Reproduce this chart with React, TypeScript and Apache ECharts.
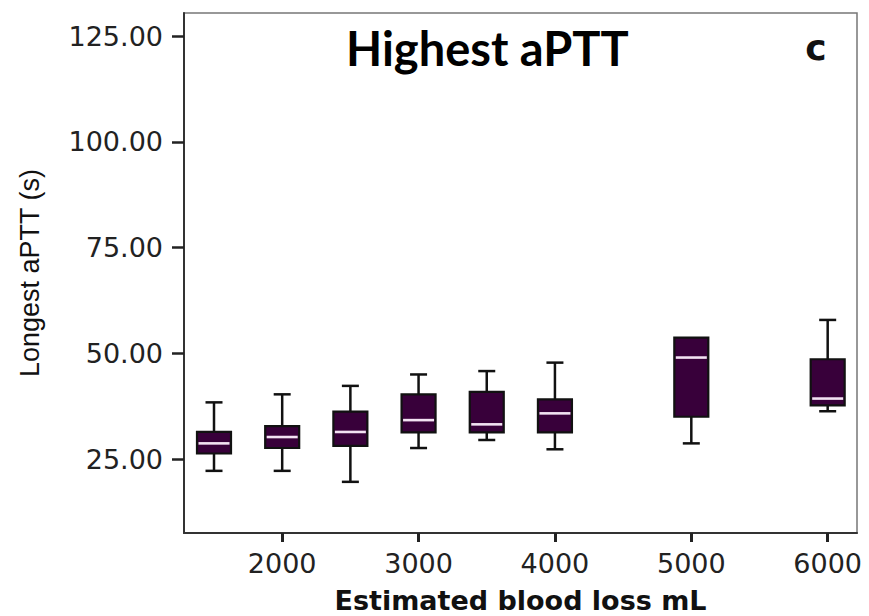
import React, { useEffect, useRef } from "react";
import * as echarts from "echarts";

// Estimated blood loss groups (mL)
const bloodLoss = [1500, 2000, 2500, 3000, 3500, 4000, 5000, 6000];
// Box statistics of longest aPTT (s)
const minVals = [22.2, 22.2, 19.6, 27.6, 29.5, 27.3, 28.7, 36.3];
const q1Vals = [26.3, 27.6, 28.1, 31.3, 31.3, 31.3, 35.0, 37.7];
const medianVals = [28.7, 30.2, 31.4, 34.2, 33.2, 35.8, 49.0, 39.3];
const q3Vals = [31.4, 32.8, 36.2, 40.3, 40.9, 39.1, 53.7, 48.6];
const maxVals = [38.4, 40.3, 42.3, 45.0, 45.8, 47.8, 53.7, 57.9];

const xTickValues = [2000, 3000, 4000, 5000, 6000];
const yTickValues = [25, 50, 75, 100, 125];

const titleText = "Highest aPTT";
const panelLetter = "c";
const xAxisTitle = "Estimated blood loss mL";
const yAxisTitle = "Longest aPTT (s)";

export default function App() {
  const ref = useRef<HTMLDivElement>(null);

  useEffect(() => {
    if (!ref.current) return;
    const chart = echarts.init(ref.current, null, { renderer: "svg" });

    const data = bloodLoss.map((x, i) => [
      x,
      minVals[i],
      q1Vals[i],
      medianVals[i],
      q3Vals[i],
      maxVals[i],
    ]);

    const boxFill = "#38003a";
    const lineColor = "#111111";

    const renderItem = (params: any, api: any) => {
      const x = api.value(0);
      const mn = api.value(1);
      const q1 = api.value(2);
      const md = api.value(3);
      const q3 = api.value(4);
      const mx = api.value(5);
      const pMin = api.coord([x, mn]);
      const pQ1 = api.coord([x, q1]);
      const pMd = api.coord([x, md]);
      const pQ3 = api.coord([x, q3]);
      const pMax = api.coord([x, mx]);
      const cx = pMin[0];
      const half = 17;
      const cap = 8.5;
      const children: any[] = [];
      if (mx > q3) {
        children.push({
          type: "line",
          shape: { x1: cx, y1: pQ3[1], x2: cx, y2: pMax[1] },
          style: { stroke: lineColor, lineWidth: 2.5 },
        });
        children.push({
          type: "line",
          shape: { x1: cx - cap, y1: pMax[1], x2: cx + cap, y2: pMax[1] },
          style: { stroke: lineColor, lineWidth: 2.5 },
        });
      }
      if (mn < q1) {
        children.push({
          type: "line",
          shape: { x1: cx, y1: pQ1[1], x2: cx, y2: pMin[1] },
          style: { stroke: lineColor, lineWidth: 2.5 },
        });
        children.push({
          type: "line",
          shape: { x1: cx - cap, y1: pMin[1], x2: cx + cap, y2: pMin[1] },
          style: { stroke: lineColor, lineWidth: 2.5 },
        });
      }
      children.push({
        type: "rect",
        shape: { x: cx - half, y: pQ3[1], width: half * 2, height: pQ1[1] - pQ3[1] },
        style: { fill: boxFill, stroke: lineColor, lineWidth: 2.2 },
      });
      children.push({
        type: "line",
        shape: { x1: cx - half + 1.5, y1: pMd[1], x2: cx + half - 1.5, y2: pMd[1] },
        style: { stroke: "#f3e2f3", lineWidth: 2.6 },
      });
      return { type: "group", children };
    };

    chart.setOption({
      animation: false,
      backgroundColor: "#ffffff",
      grid: {
        left: 184,
        top: 13,
        right: 12,
        bottom: 83,
        outerBoundsMode: "none",
        show: true,
        borderColor: "#777777",
        borderWidth: 1.5,
        backgroundColor: "transparent",
      },
      graphic: [
        {
          type: "text",
          left: 346,
          top: 24,
          style: {
            text: titleText,
            font: "bold 47px Lato",
            fill: "#000000",
          },
        },
        {
          type: "text",
          x: 816,
          y: 47,
          style: {
            text: panelLetter,
            font: "bold 36px 'DejaVu Sans'",
            fill: "#111111",
            textAlign: "center",
            textVerticalAlign: "middle",
          },
        },
      ],
      xAxis: {
        type: "value",
        min: 1280,
        max: 6215,
        name: xAxisTitle,
        nameLocation: "middle",
        nameGap: 67,
        nameTextStyle: {
          fontFamily: "DejaVu Sans",
          fontWeight: "bold",
          fontSize: 27,
          color: "#111111",
          verticalAlign: "middle",
        },
        axisLine: { show: true, onZero: false, lineStyle: { color: "#333333", width: 2 } },
        axisTick: {
          show: true,
          length: 9,
          customValues: xTickValues,
          lineStyle: { color: "#222222", width: 3 },
        },
        axisLabel: {
          customValues: xTickValues,
          margin: 17,
          fontFamily: "DejaVu Sans",
          fontSize: 27,
          color: "#222222",
          formatter: (v: number) => String(v),
        },
        splitLine: { show: false },
      },
      yAxis: {
        type: "value",
        min: 7.5,
        max: 130.5,
        name: yAxisTitle,
        nameLocation: "middle",
        nameRotate: 90,
        nameGap: 154,
        nameTextStyle: {
          fontFamily: "Liberation Sans",
          fontSize: 27,
          color: "#111111",
          verticalAlign: "middle",
        },
        axisLine: { show: true, onZero: false, lineStyle: { color: "#333333", width: 2 } },
        axisTick: {
          show: true,
          length: 12,
          customValues: yTickValues,
          lineStyle: { color: "#222222", width: 2.5 },
        },
        axisLabel: {
          customValues: yTickValues,
          margin: 21,
          fontFamily: "DejaVu Sans",
          fontSize: 27,
          color: "#222222",
          formatter: (v: number) => v.toFixed(2),
        },
        splitLine: { show: false },
      },
      series: [
        {
          type: "custom",
          name: "Longest aPTT",
          renderItem,
          encode: { x: 0, y: [1, 2, 3, 4, 5] },
          data,
          clip: false,
        },
      ],
    });

    return () => chart.dispose();
  }, []);

  return (
    <div
      ref={ref}
      style={{ position: "fixed", left: 0, top: 0, width: 869, height: 616 }}
    />
  );
}
